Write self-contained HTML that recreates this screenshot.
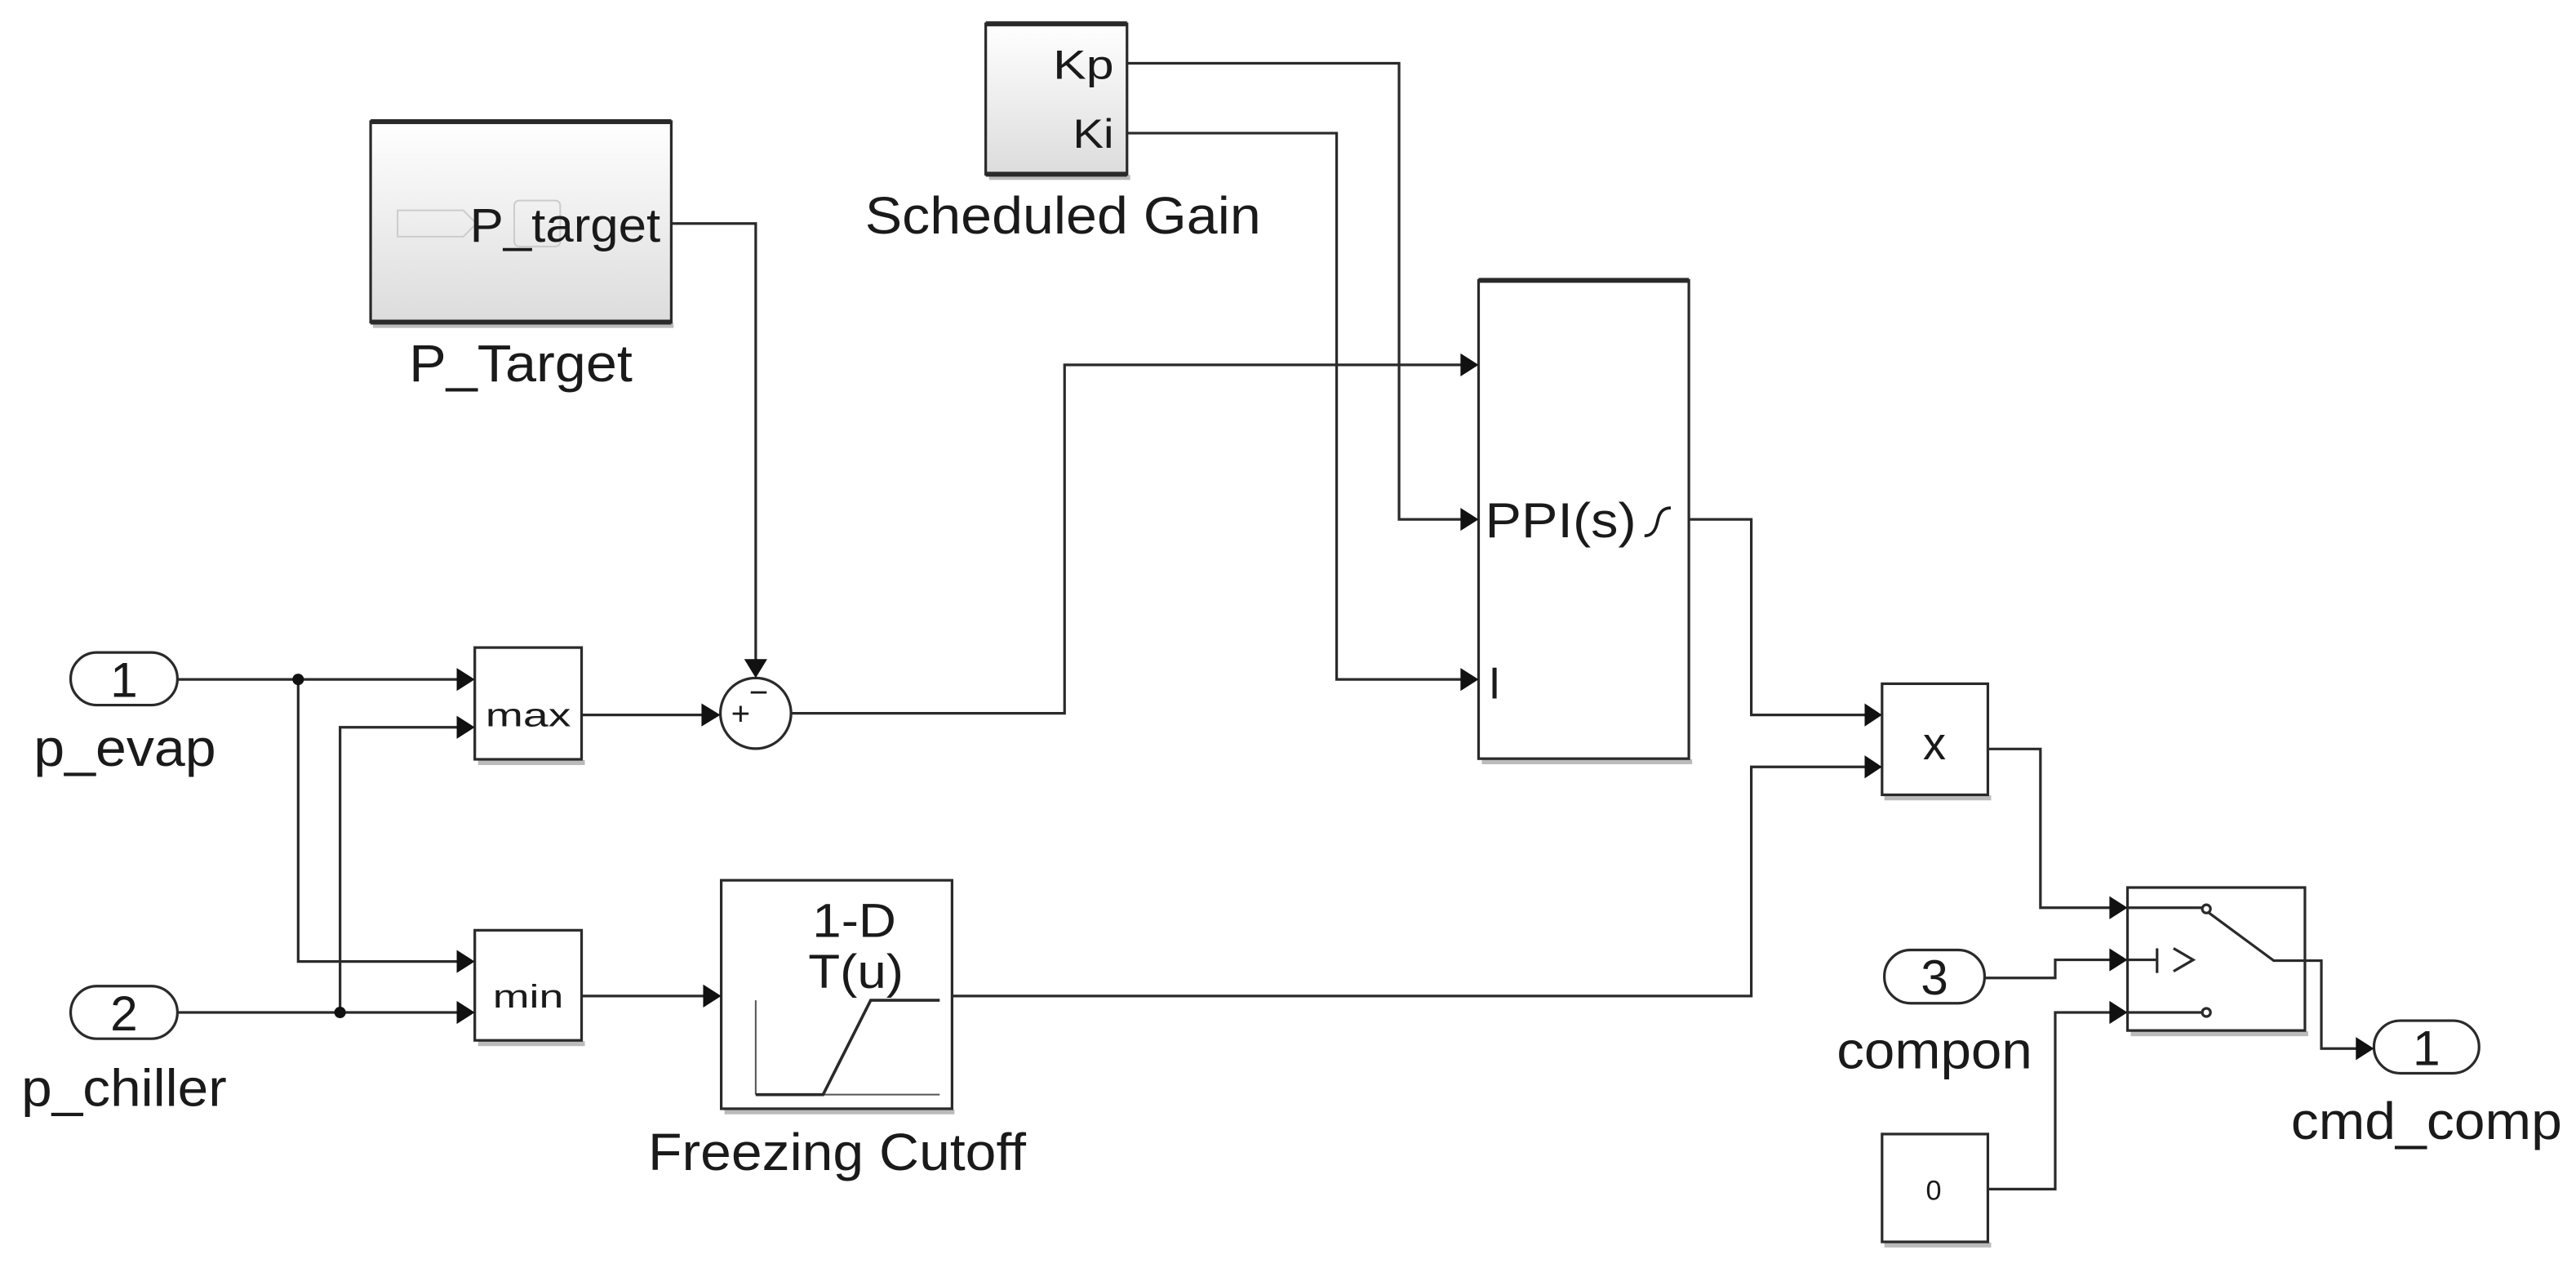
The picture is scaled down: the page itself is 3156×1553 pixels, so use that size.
<!DOCTYPE html>
<html><head><meta charset="utf-8"><style>
html,body{margin:0;padding:0;background:#fff;}
svg{display:block;}
text{font-family:"Liberation Sans",Arial,sans-serif;fill:#1a1a1a;}
</style></head><body>
<svg width="3156" height="1553" viewBox="0 0 1568 771.5" preserveAspectRatio="none" xmlns="http://www.w3.org/2000/svg">
<defs>
<linearGradient id="g" x1="0" y1="0" x2="0" y2="1">
<stop offset="0" stop-color="#ffffff"/><stop offset="1" stop-color="#dcdcdc"/>
</linearGradient>
</defs>
<rect width="1568" height="771.5" fill="#fff"/>
<g fill="none" stroke="#2a2a2a" stroke-width="1.6">
<g stroke="#bbb" stroke-width="3">
<line x1="227" y1="198" x2="410" y2="198"/>
<line x1="602" y1="108" x2="688" y2="108"/>
<line x1="291" y1="464" x2="356" y2="464"/>
<line x1="291" y1="635" x2="356" y2="635"/>
<line x1="441" y1="676.5" x2="581" y2="676.5"/>
<line x1="902" y1="463.5" x2="1030" y2="463.5"/>
<line x1="1147" y1="485.5" x2="1212" y2="485.5"/>
<line x1="1297" y1="629" x2="1405" y2="629"/>
<line x1="1147" y1="757.5" x2="1212" y2="757.5"/>
</g>
<rect x="225.6" y="74" width="183" height="122" fill="url(#g)"/>
<line x1="225.6" y1="74" x2="408.6" y2="74" stroke-width="3"/>
<line x1="225.6" y1="196" x2="408.6" y2="196" stroke-width="3"/>
<rect x="600" y="14.5" width="86" height="91.5" fill="url(#g)"/>
<line x1="600" y1="14.5" x2="686" y2="14.5" stroke-width="3"/>
<line x1="600" y1="106" x2="686" y2="106" stroke-width="3"/>
<rect x="900" y="170.6" width="128" height="291" fill="#fff"/>
<line x1="900" y1="170.6" x2="1028" y2="170.6" stroke-width="3"/>
<rect x="289" y="394" width="65" height="68" fill="#fff"/>
<rect x="289" y="566" width="65" height="67" fill="#fff"/>
<rect x="439" y="535.6" width="140.5" height="139" fill="#fff"/>
<rect x="1145.6" y="416" width="64.4" height="67.6" fill="#fff"/>
<rect x="1295" y="540" width="108" height="87" fill="#fff"/>
<rect x="1145.6" y="690" width="64.4" height="65.6" fill="#fff"/>
<rect x="43" y="397" width="65" height="32" rx="16" fill="#fff"/>
<rect x="43" y="600" width="65" height="32" rx="16" fill="#fff"/>
<rect x="1147" y="578" width="61" height="32.4" rx="16" fill="#fff"/>
<rect x="1445" y="621" width="64" height="32" rx="16" fill="#fff"/>
<ellipse cx="460" cy="434" rx="21.5" ry="21.5" fill="#fff"/>
<polyline points="686,38.5 851.6,38.5 851.6,316 893,316"/>
<polyline points="686,81 813.6,81 813.6,413.4 893,413.4"/>
<polyline points="408.6,136 460,136 460,406"/>
<polyline points="108,413.4 283,413.4"/>
<polyline points="181.5,413.4 181.5,585 283,585"/>
<polyline points="108,616 283,616"/>
<polyline points="207,616 207,442.5 283,442.5"/>
<polyline points="354,435 432,435"/>
<polyline points="481.5,434 648,434 648,222 893,222"/>
<polyline points="1028,316 1066,316 1066,435 1139,435"/>
<polyline points="354,606 432,606"/>
<polyline points="579.5,606 1066,606 1066,466.6 1139,466.6"/>
<polyline points="1210,455.7 1242,455.7 1242,552.3 1289,552.3"/>
<polyline points="1208,595 1251,595 1251,584 1289,584"/>
<polyline points="1210,723.5 1251,723.5 1251,616 1289,616"/>
<polyline points="1403,584.5 1413,584.5 1413,638 1439,638"/>
<line x1="1295" y1="552.3" x2="1340" y2="552.3"/>
<line x1="1295" y1="616" x2="1340" y2="616"/>
<circle cx="1343" cy="553" r="2.5" fill="#fff"/>
<circle cx="1343" cy="616" r="2.5" fill="#fff"/>
<polyline points="1344,555 1384,584.5 1403,584.5"/>
<line x1="1295" y1="584" x2="1313" y2="584"/>
<line x1="1313" y1="577" x2="1313" y2="592"/>
<polyline points="1323,577 1335,584 1323,591"/>
<g stroke="#555" stroke-width="1">
<line x1="460" y1="608.6" x2="460" y2="666"/>
<line x1="460" y1="666" x2="572" y2="666"/>
</g>
<polyline points="460,666 501,666 530,608.6 572,608.6" stroke-width="1.8"/>
<polygon points="242,128 282,128 290,136 282,144 242,144" stroke="#ccc" stroke-width="1"/>
<rect x="313" y="122" width="28" height="28" rx="3" stroke="#ccc" stroke-width="1"/>
</g>
<circle cx="181.5" cy="413.4" r="3.5" fill="#111"/>
<circle cx="207" cy="616" r="3.5" fill="#111"/>
<g fill="#111">
<polygon points="889,309 900,316 889,323"/>
<polygon points="889,406.4 900,413.4 889,420.4"/>
<polygon points="889,215 900,222 889,229"/>
<polygon points="453,401 460,412.5 467,401"/>
<polygon points="278,406.4 289,413.4 278,420.4"/>
<polygon points="278,435.5 289,442.5 278,449.5"/>
<polygon points="278,578 289,585 278,592"/>
<polygon points="278,609 289,616 278,623"/>
<polygon points="427,428 438.5,435 427,442"/>
<polygon points="428,599 439,606 428,613"/>
<polygon points="1135,428 1145.6,435 1135,442"/>
<polygon points="1135,459.6 1145.6,466.6 1135,473.6"/>
<polygon points="1284,545.3 1295,552.3 1284,559.3"/>
<polygon points="1284,577 1295,584 1284,591"/>
<polygon points="1284,609 1295,616 1284,623"/>
<polygon points="1434,631 1445,638 1434,645"/>
</g>
<text x="344" y="147" font-size="29" text-anchor="middle" textLength="116" lengthAdjust="spacingAndGlyphs">P_target</text>
<text x="317" y="232" font-size="32" text-anchor="middle" textLength="136" lengthAdjust="spacingAndGlyphs">P_Target</text>
<text x="678" y="48" font-size="25" text-anchor="end" textLength="37" lengthAdjust="spacingAndGlyphs">Kp</text>
<text x="678" y="90" font-size="25" text-anchor="end" textLength="25" lengthAdjust="spacingAndGlyphs">Ki</text>
<text x="647" y="142" font-size="32" text-anchor="middle" textLength="241" lengthAdjust="spacingAndGlyphs">Scheduled Gain</text>
<text x="904" y="327" font-size="30" textLength="92" lengthAdjust="spacingAndGlyphs">PPI(s)</text>
<path d="M1001,326 C1006,326 1008,322 1009,317 C1010,312 1012,309 1017,309" stroke="#1a1a1a" stroke-width="1.8" fill="none"/>
<text x="906" y="425" font-size="27">I</text>
<text x="321.5" y="442" font-size="20" text-anchor="middle" textLength="52" lengthAdjust="spacingAndGlyphs">max</text>
<text x="321.5" y="613" font-size="20" text-anchor="middle" textLength="43" lengthAdjust="spacingAndGlyphs">min</text>
<text x="75.5" y="424" font-size="30" text-anchor="middle">1</text>
<text x="75.5" y="627" font-size="30" text-anchor="middle">2</text>
<text x="1177.5" y="605" font-size="30" text-anchor="middle">3</text>
<text x="1477" y="648" font-size="30" text-anchor="middle">1</text>
<text x="445" y="441" font-size="20">+</text>
<text x="456" y="428" font-size="20">−</text>
<text x="76" y="466" font-size="32" text-anchor="middle" textLength="111" lengthAdjust="spacingAndGlyphs">p_evap</text>
<text x="75.5" y="673" font-size="32" text-anchor="middle" textLength="125" lengthAdjust="spacingAndGlyphs">p_chiller</text>
<text x="520" y="570" font-size="29" text-anchor="middle" textLength="51" lengthAdjust="spacingAndGlyphs">1-D</text>
<text x="521" y="601" font-size="29" text-anchor="middle" textLength="58" lengthAdjust="spacingAndGlyphs">T(u)</text>
<text x="509.5" y="712" font-size="32" text-anchor="middle" textLength="230" lengthAdjust="spacingAndGlyphs">Freezing Cutoff</text>
<text x="1177.5" y="462" font-size="28" text-anchor="middle">x</text>
<text x="1177.5" y="650" font-size="32" text-anchor="middle" textLength="119" lengthAdjust="spacingAndGlyphs">compon</text>
<text x="1477" y="693" font-size="32" text-anchor="middle" textLength="165" lengthAdjust="spacingAndGlyphs">cmd_comp</text>
<text x="1177" y="730" font-size="17" text-anchor="middle">0</text>
</svg>
</body></html>
